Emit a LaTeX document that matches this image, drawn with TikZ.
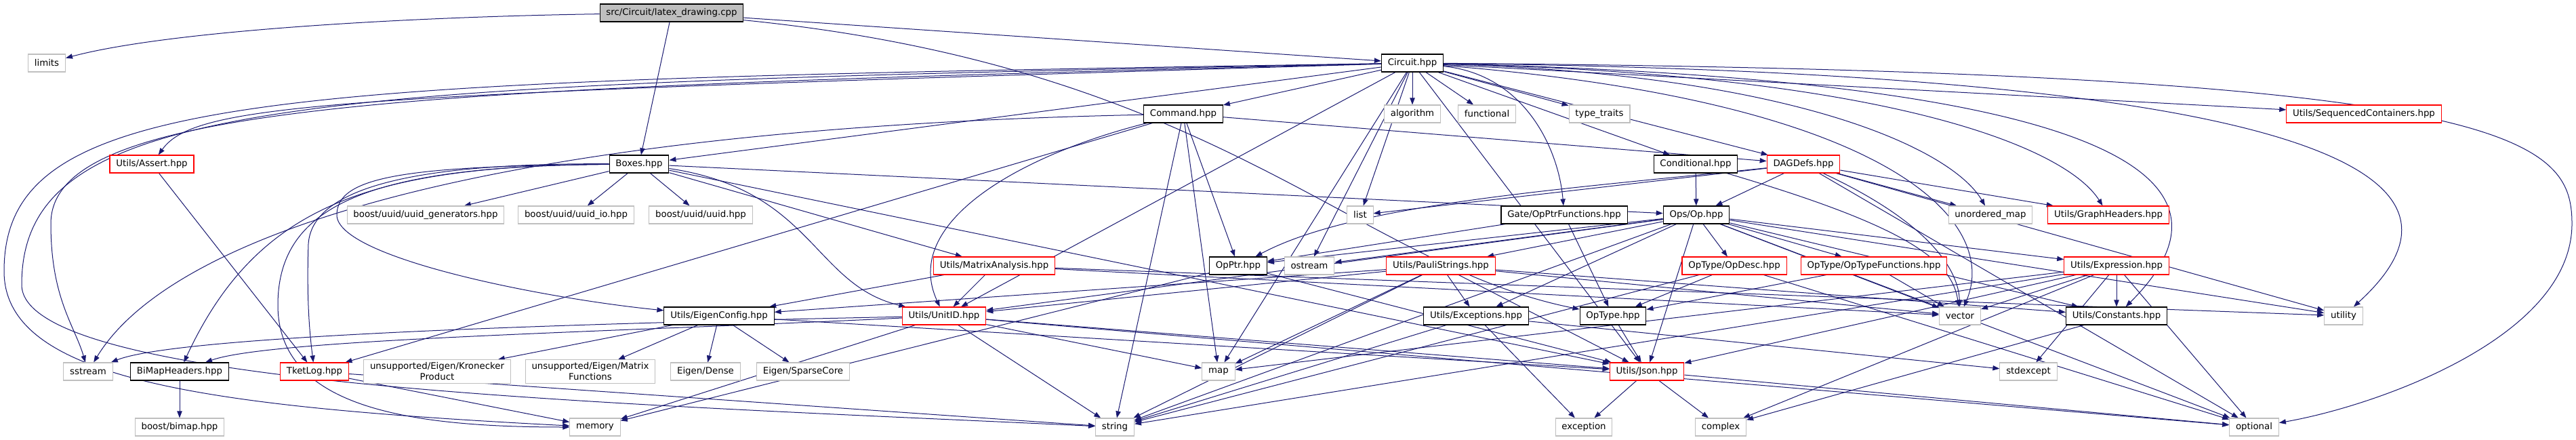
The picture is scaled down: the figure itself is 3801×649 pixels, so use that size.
\documentclass[tikz,border=0pt]{standalone}
\usepackage{fontspec}
\newfontfamily\dxfont{DejaVu Sans}
\usetikzlibrary{arrows.meta}
\definecolor{edgeblue}{HTML}{191970}
\definecolor{grey75}{HTML}{BFBFBF}
\pgfdeclarelayer{bg}
\pgfsetlayers{bg,main}

\begin{document}
\begin{tikzpicture}[x=0.75pt, y=-0.75pt,
  hdr/.style={draw=#1, fill=white, line width=0.8pt, minimum height=19.5pt, inner xsep=7pt, inner ysep=2pt, align=center, font=\dxfont\fontsize{10}{12}\selectfont},
  doc/.style={hdr=black}, sys/.style={hdr=grey75}, cut/.style={hdr=red},
  inc/.style={->, draw=edgeblue, line width=0.75pt},
  >={Triangle[length=7.5pt,width=5.5pt]}]
\useasboundingbox (0,0) rectangle (3801,649);

\node[doc, fill=grey75] (ld) at (991,19) {src/Circuit/latex\_drawing.cpp};
\node[sys] (lim) at (69,93) {limits}; \node[doc] (circ) at (2084,93) {Circuit.hpp};
\node[doc] (cmd) at (1746,168) {Command.hpp}; \node[sys] (alg) at (2084,168) {algorithm}; \node[sys] (func) at (2194,168) {functional};
\node[sys] (tt) at (2360,168) {type\_traits}; \node[cut] (seq) at (3488,168) {Utils/SequencedContainers.hpp};
\node[cut] (asrt) at (224,242) {Utils/Assert.hpp}; \node[doc] (box) at (943,242) {Boxes.hpp};
\node[doc] (cond) at (2502,242) {Conditional.hpp}; \node[cut] (dag) at (2661,242) {DAGDefs.hpp};
\node[sys] (ugen) at (628,317) {boost/uuid/uuid\_generators.hpp}; \node[sys] (uio) at (850,317) {boost/uuid/uuid\_io.hpp};
\node[sys] (uuid) at (1034,317) {boost/uuid/uuid.hpp}; \node[sys] (lst) at (2007,317) {list};
\node[doc] (opf) at (2308,317) {Gate/OpPtrFunctions.hpp}; \node[doc] (op) at (2503,317) {Ops/Op.hpp};
\node[sys] (umap) at (2937,317) {unordered\_map}; \node[cut] (gh) at (3111,317) {Utils/GraphHeaders.hpp};
\node[cut] (ma) at (1467,392) {Utils/MatrixAnalysis.hpp}; \node[doc] (optr) at (1827,392) {OpPtr.hpp};
\node[sys] (ostr) at (1932,392) {ostream}; \node[cut] (ps) at (2126,392) {Utils/PauliStrings.hpp};
\node[cut] (desc) at (2559,392) {OpType/OpDesc.hpp}; \node[cut] (otf) at (2765,392) {OpType/OpTypeFunctions.hpp};
\node[cut] (expr) at (3123,392) {Utils/Expression.hpp};
\node[doc] (eig) at (1061,466) {Utils/EigenConfig.hpp}; \node[cut] (uid) at (1393,466) {Utils/UnitID.hpp};
\node[doc] (exc) at (2178,466) {Utils/Exceptions.hpp}; \node[doc] (otype) at (2380,466) {OpType.hpp};
\node[sys] (vec) at (2892,466) {vector}; \node[doc] (cons) at (3123,466) {Utils/Constants.hpp}; \node[sys] (util) at (3458,466) {utility};
\node[sys] (sstr) at (130,548) {sstream}; \node[doc] (bimh) at (265,548) {BiMapHeaders.hpp}; \node[cut] (tlog) at (464,548) {TketLog.hpp};
\node[sys, inner ysep=3pt] (kron) at (645,548) {unsupported/Eigen/Kronecker\\Product};
\node[sys, inner ysep=3pt] (mfun) at (871,548) {unsupported/Eigen/Matrix\\Functions};
\node[sys] (dense) at (1041,548) {Eigen/Dense}; \node[sys] (sparse) at (1185,548) {Eigen/SparseCore};
\node[sys] (map) at (1798,548) {map}; \node[cut] (json) at (2430,548) {Utils/Json.hpp}; \node[sys] (stdx) at (2993,548) {stdexcept};
\node[sys] (bimap) at (265,630) {boost/bimap.hpp}; \node[sys] (mem) at (878,630) {memory}; \node[sys] (str) at (1645,630) {string};
\node[sys] (excp) at (2337,630) {exception}; \node[sys] (cplx) at (2539,630) {complex}; \node[sys] (opt) at (3326,630) {optional};

\begin{pgfonlayer}{bg}
\foreach \a/\b in {ld/box, ld/circ, circ/cmd, circ/alg, circ/func, circ/tt, circ/seq, circ/box, circ/cond, circ/dag, circ/lst, circ/ostr,
  circ/uid, circ/json, circ/map, cmd/dag, cmd/optr, cmd/tlog, cmd/str, cmd/map,
  box/ugen, box/uio, box/uuid, box/ma, box/op, box/json, cond/op, dag/lst, dag/op, dag/umap, dag/gh, dag/util, dag/opt,
  opf/optr, opf/otype, op/optr, op/ostr, op/ps, op/desc, op/otf, op/expr, op/exc, op/json, op/uid, op/str, op/vec, op/cons, op/util, op/opt,
  optr/mem, optr/json, ma/eig, ma/uid, ma/vec, ma/util, ps/eig, ps/uid, ps/exc, ps/json, ps/map, ps/str, ps/vec, ps/cons,
  desc/otype, desc/str, desc/opt, otf/otype, otf/vec, expr/vec, expr/cons, expr/json, expr/map, expr/str, expr/cplx, expr/opt, expr/stdx,
  eig/kron, eig/mfun, eig/dense, eig/sparse, eig/json, uid/mem, uid/str, uid/map, uid/json, uid/opt,
  exc/str, exc/excp, exc/stdx, otype/json, json/excp, json/cplx, json/opt, cons/cplx, tlog/mem, tlog/str, asrt/tlog, bimh/bimap}
  \draw[inc] (\a) -- (\b);
\draw[inc] (ld) .. controls (600,25) and (250,45) .. (lim);
\draw[inc] (ld) .. controls (1800,100) and (2000,390) .. (otype);
\draw[inc] (circ) .. controls (500,140) and (290,150) .. (asrt);
\draw[inc] (circ) .. controls (600,130) and (75,150) .. (75,330) .. controls (75,440) and (110,480) .. (sstr);
\draw[inc] (circ) .. controls (400,120) and (6,130) .. (6,400) .. controls (6,560) and (300,600) .. (mem);
\draw[inc] (circ) .. controls (450,125) and (32,140) .. (32,420) .. controls (32,570) and (900,595) .. (str);
\draw[inc] (circ) .. controls (2250,110) and (2300,220) .. (opf);
\draw[inc] (circ) .. controls (2650,110) and (2880,220) .. (umap);
\draw[inc] (circ) .. controls (2800,110) and (3050,220) .. (gh);
\draw[inc] (circ) .. controls (2800,150) and (2950,330) .. (vec);
\draw[inc] (circ) .. controls (3250,120) and (3290,300) .. (cons);
\draw[inc] (circ) .. controls (3600,110) and (3640,300) .. (util);
\draw[inc] (circ) .. controls (3700,105) and (3795,200) .. (3795,330) .. controls (3795,500) and (3500,600) .. (opt);
\draw[inc] (cmd) .. controls (700,190) and (250,350) .. (sstr);
\draw[inc] (cmd) .. controls (1500,230) and (1330,330) .. (uid);
\draw[inc] (box) .. controls (600,245) and (497,260) .. (497,317) .. controls (497,380) and (800,440) .. (eig);
\draw[inc] (box) .. controls (600,240) and (460,280) .. (455,360) .. controls (452,450) and (458,500) .. (tlog);
\draw[inc] (box) .. controls (550,245) and (380,300) .. (bimh);
\draw[inc] (box) .. controls (550,245) and (410,300) .. (410,450) .. controls (410,600) and (600,630) .. (mem);
\draw[inc] (box) .. controls (1200,280) and (1200,420) .. (uid);
\draw[inc] (cond) .. controls (2800,330) and (2880,380) .. (vec);
\draw[inc] (dag) .. controls (2300,280) and (2000,300) .. (optr);
\draw[inc] (dag) .. controls (2850,330) and (2890,400) .. (vec);
\draw[inc] (uid) .. controls (700,480) and (250,500) .. (sstr);
\draw[inc] (uid) .. controls (900,490) and (400,500) .. (bimh);
\end{pgfonlayer}
\end{tikzpicture}
\end{document}
